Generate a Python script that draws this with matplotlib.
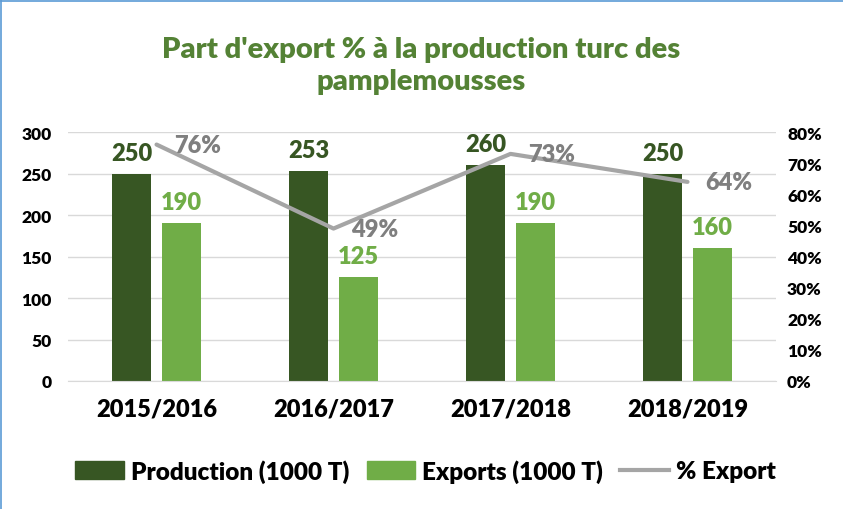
import numpy as np
import matplotlib.pyplot as plt
from matplotlib.lines import Line2D
from matplotlib.patches import Patch

plt.rcParams['font.family'] = ['Lato', 'DejaVu Sans']
plt.rcParams['font.weight'] = 'heavy'

campagnes = ["2015/2016", "2016/2017", "2017/2018", "2018/2019"]
production = [250, 253, 260, 250]
exports = [190, 125, 190, 160]
part_export = [76, 49, 73, 64]

dark = "#375623"
light = "#70AD47"
grey = "#A5A5A5"

fig = plt.figure(figsize=(8.43, 5.10), dpi=100)
ax = fig.add_axes([0.0807, 0.251, 0.8398, 0.488])
x = np.arange(len(campagnes))
w = 0.22
b1 = ax.bar(x - 0.14, production, w, color=dark, zorder=2)
b2 = ax.bar(x + 0.14, exports, w, color=light, zorder=2)
for r, v in zip(b1, production):
    ax.text(r.get_x() + r.get_width() / 2, v + 12, str(v), ha="center", va="bottom",
            color=dark, fontsize=17, fontweight="heavy")
for r, v in zip(b2, exports):
    ax.text(r.get_x() + r.get_width() / 2, v + 12, str(v), ha="center", va="bottom",
            color=light, fontsize=17, fontweight="heavy")

ax.set_xlim(-0.5, 3.5)
ax.set_ylim(0, 300)
ax.set_yticks(range(0, 301, 50))
ax.set_xticks(x)
ax.set_xticklabels(campagnes, fontsize=17, fontweight="heavy")
ax.tick_params(axis="y", labelsize=12.5, length=0, pad=12)
ax.tick_params(axis="x", length=0, pad=12)
ax.grid(axis="y", color="#D9D9D9", linewidth=1, zorder=0)
for s in ["top", "left", "right"]:
    ax.spines[s].set_visible(False)
ax.spines["bottom"].set_color("#D9D9D9")

ax2 = ax.twinx()
ax2.plot(x, part_export, color=grey, linewidth=3, solid_capstyle="round", zorder=3)
for xi, p in zip(x, part_export):
    ax2.text(xi + 0.1, p, f"{p}%", ha="left", va="center", color="#7F7F7F",
             fontsize=17, fontweight="heavy")
ax2.set_ylim(0, 80)
ax2.set_yticks(range(0, 81, 10))
ax2.set_yticklabels([f"{t}%" for t in range(0, 81, 10)])
ax2.tick_params(axis="y", labelsize=12.5, length=0, pad=8)
for s in ax2.spines.values():
    s.set_visible(False)

fig.text(0.5, 0.871, "Part d'export % à la production turc des\npamplemousses",
         ha="center", va="center", color="#548235", fontsize=21, fontweight="heavy",
         linespacing=1.3)

handles = [Patch(color=dark, label="Production (1000 T)"),
           Patch(color=light, label="Exports (1000 T)"),
           Line2D([0], [0], color=grey, linewidth=3, label="% Export")]
fig.legend(handles=handles, loc="center", bbox_to_anchor=(0.505, 0.075), ncol=3,
           frameon=False, handlelength=2.0, handleheight=0.8,
           columnspacing=0.7, handletextpad=0.3, prop={"weight": "heavy", "size": 17.5})

# cadre bleu du graphique (haut et gauche)
fig.add_artist(Line2D([0.001, 0.001], [0, 0.999], color="#5B9BD5", linewidth=1.2))
fig.add_artist(Line2D([0.001, 1], [0.997, 0.997], color="#5B9BD5", linewidth=1.2))

fig.savefig("out.png", dpi=100)
